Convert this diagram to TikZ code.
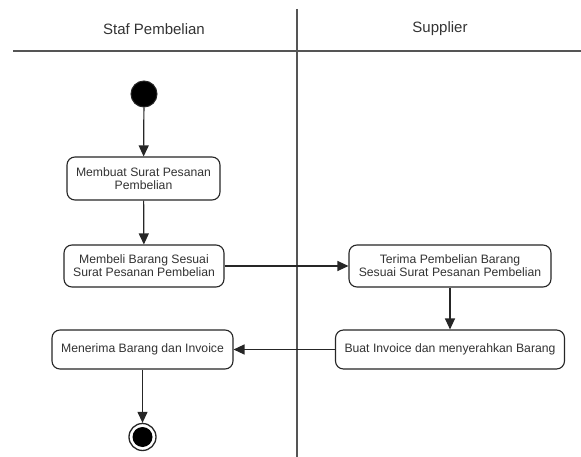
\documentclass[tikz,border=0pt]{standalone}
\usepackage{fontspec}
\setmainfont{Liberation Sans}
\usetikzlibrary{arrows.meta}
\definecolor{txt}{HTML}{333333}
\definecolor{lane}{HTML}{555555}
\tikzset{
  act/.style={draw=black!85, line width=1.1pt, rounded corners=8pt, fill=white,
    align=center, inner sep=2pt, text=txt, font=\fontsize{12.2}{13}\selectfont},
  flow/.style={draw=black!85, line width=1.2pt, -{Triangle[length=11pt,width=10pt]}},
  lanehead/.style={text=txt, font=\fontsize{15}{18}\selectfont},
  laneline/.style={draw=lane, line width=1.8pt}
}
\begin{document}
\begin{tikzpicture}[x=1pt,y=-1pt]
\useasboundingbox (0,0) rectangle (581,457);
% swimlanes
\draw[laneline] (13,51) -- (581,51);
\draw[laneline] (297,9) -- (297,457);
\node[lanehead] (h1) at (154,29) {Staf Pembelian};
\node[lanehead] (h2) at (440,29) {Supplier};
% nodes
\node[circle, fill=black, draw=black!85, line width=1pt, minimum size=26pt, inner sep=0] (start) at (144,94) {};
\node[act, minimum width=153pt, minimum height=43pt] (b1) at (143.5,178.5) {Membuat Surat Pesanan\\Pembelian};
\node[act, minimum width=160pt, minimum height=42pt] (b2) at (144,266) {Membeli Barang Sesuai\\Surat Pesanan Pembelian};
\node[act, minimum width=202pt, minimum height=42pt] (b3) at (450,266) {Terima Pembelian Barang\\Sesuai Surat Pesanan Pembelian};
\node[act, minimum width=229pt, minimum height=39pt] (b4) at (450,349.5) {Buat Invoice dan menyerahkan Barang};
\node[act, minimum width=181pt, minimum height=39pt] (b5) at (142.5,349.5) {Menerima Barang dan Invoice};
\node[circle, draw=black!85, line width=1.3pt, minimum size=27pt, inner sep=0] (end) at (142.5,437) {};
\fill[black] (end.center) circle (10pt);
% flows
\draw[flow] (start) -- (b1);
\draw[flow] (b1) -- (b2);
\draw[flow] (b2) -- (b3);
\draw[flow] (b3) -- (b4);
\draw[flow] (b4) -- (b5);
\draw[flow] (b5) -- (end);
\end{tikzpicture}
\end{document}
